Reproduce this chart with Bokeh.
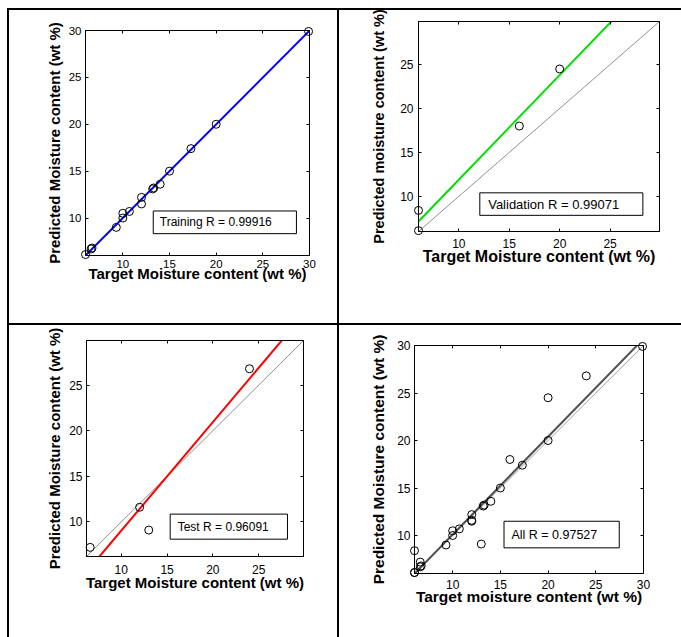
from bokeh.plotting import figure
from bokeh.models import Range1d, FixedTicker, LinearAxis, Spacer
from bokeh.layouts import column, row
from bokeh.embed import file_html
from bokeh.resources import INLINE
from bokeh.core.properties import value

# ---------------- data ----------------
train_target = [6.0, 6.6, 6.7, 9.3, 10.0, 10.0, 10.7, 12.0, 12.0, 13.2, 13.3, 14.0, 15.0, 17.3, 20.0, 29.9]
train_output = [6.1, 6.7, 6.8, 9.0, 10.5, 10.0, 10.7, 12.2, 11.5, 13.1, 13.2, 13.6, 15.0, 17.4, 20.0, 29.9]

val_target = [6.0, 6.0, 16.0, 20.0]
val_output = [8.4, 6.1, 18.0, 24.5]

test_target = [6.6, 12.0, 13.0, 24.0]
test_output = [7.2, 11.6, 9.1, 26.8]

all_target = train_target + val_target + test_target
all_output = train_output + val_output + test_output

# fitted regression lines: (slope, intercept)
train_fit = (0.999, 0.01)
val_fit = (1.19, 0.0)
test_fit = (1.19, -2.86)
all_fit = (1.03, -0.2)

r_labels = ["Training R = 0.99916", "Validation R = 0.99071", "Test R = 0.96091", "All R = 0.97527"]
x_labels = ["Target Moisture content (wt %)", "Target Moisture content (wt %)",
            "Target Moisture content (wt %)", "Target moisture content (wt %)"]
y_labels = ["Predicted Moisture content (wt %)", "Predicted moisture content (wt %)",
            "Predicted Moisture content (wt %)", "Predicted Moisture content (wt %)"]
ticks_full = [10, 15, 20, 25, 30]
ticks_short = [10, 15, 20, 25]

FONT = "Liberation Sans"


def style_axis(ax, ticks, fs, show_labels=True):
    ax.ticker = FixedTicker(ticks=ticks)
    ax.major_tick_in = 3
    ax.major_tick_out = 0
    ax.minor_tick_line_color = None
    ax.axis_line_color = "black"
    ax.major_tick_line_color = "black"
    ax.major_label_text_font = FONT
    ax.axis_label_text_font = FONT
    ax.axis_label_text_font_style = "bold"
    ax.axis_label_text_color = "black"
    if show_labels:
        ax.major_label_text_color = "black"
        ax.major_label_text_font_size = fs
    else:
        ax.major_label_text_color = None
        ax.major_label_text_font_size = "1px"
        ax.major_label_standoff = 0


def panel(w, h, mb, xr, yr, ticks, xlabel, ylabel, tick_fs, xl_fs, yl_fs,
          xstand, ystand):
    p = figure(width=w, height=h, x_range=Range1d(*xr), y_range=Range1d(*yr),
               output_backend="svg", toolbar_location=None, title=None,
               min_border_left=mb[0], min_border_right=mb[1],
               min_border_top=mb[2], min_border_bottom=mb[3])
    p.xgrid.visible = False
    p.ygrid.visible = False
    p.outline_line_color = "black"
    p.outline_line_width = 1
    p.background_fill_color = "white"
    p.border_fill_color = "white"
    style_axis(p.xaxis[0], ticks, tick_fs)
    style_axis(p.yaxis[0], ticks, tick_fs)
    p.xaxis.axis_label = xlabel
    p.yaxis.axis_label = ylabel
    p.xaxis.axis_label_text_font_size = xl_fs
    p.yaxis.axis_label_text_font_size = yl_fs
    p.xaxis.major_label_standoff = xstand[0]
    p.xaxis.axis_label_standoff = xstand[1]
    p.yaxis.major_label_standoff = ystand[0]
    p.yaxis.axis_label_standoff = ystand[1]
    top = LinearAxis()
    right = LinearAxis()
    style_axis(top, ticks, tick_fs, show_labels=False)
    style_axis(right, ticks, tick_fs, show_labels=False)
    p.add_layout(top, "above")
    p.add_layout(right, "right")
    return p


def fit_line(p, xr, fit, color, width):
    xs = [xr[0], xr[1]]
    ys = [fit[0] * x + fit[1] for x in xs]
    p.line(xs, ys, line_color=color, line_width=width)


def ident_line(p, xr, color, width):
    p.line([xr[0], xr[1]], [xr[0], xr[1]], line_color=color, line_width=width)


def rbox(p, l, r, b, t, tx, txt, fs):
    p.quad(left=[l], right=[r], bottom=[b], top=[t], fill_color="white",
           line_color="black", line_width=1)
    p.text(x=[tx], y=[(b + t) / 2], text=[txt], text_font=value(FONT),
           text_font_size=fs, text_baseline="middle", text_align="left",
           text_color="black")


def dots(p, xs, ys):
    p.scatter(xs, ys, marker="circle", size=8, fill_color=None,
              line_color="black", line_width=1, level="overlay")


def sep(w, h):
    return Spacer(width=w, height=h, styles={"background-color": "black"})


# ---------------- Training (top-left) ----------------
r1 = (6, 30)
p1 = panel(328, 313, (76, 28, 20, 68), r1, r1, ticks_full, x_labels[0], y_labels[0],
           "11.5px", "15px", "15px", (4, -6), (4, 3))
ident_line(p1, r1, "#909090", 1)
fit_line(p1, r1, train_fit, "#0000ff", 2)
dots(p1, train_target, train_output)
rbox(p1, 13.26, 28.6, 8.33, 10.75, 13.96, r_labels[0], "12px")

# ---------------- Validation (top-right) ----------------
r2 = (6, 29.9)
p2 = panel(342, 313, (79, 22, 11, 92), r2, r2, ticks_short, x_labels[1], y_labels[1],
           "12px", "16px", "14.5px", (7, -3), (5, 10))
ident_line(p2, r2, "#909090", 1)
fit_line(p2, r2, val_fit, "#00e000", 2)
dots(p2, val_target, val_output)
rbox(p2, 12.08, 28.25, 7.84, 10.4, 12.91, r_labels[1], "13px")

# ---------------- Test (bottom-left) ----------------
r3 = (6.2, 29.9)
p3 = panel(328, 312, (77, 34, 15, 81), r3, r3, ticks_short, x_labels[2], y_labels[2],
           "12px", "15px", "15px", (8, -3), (4, 3))
ident_line(p3, r3, "#909090", 1)
fit_line(p3, r3, test_fit, "#ff0000", 2)
dots(p3, test_target, test_output)
rbox(p3, 15.34, 28.15, 8.1, 10.85, 16.16, r_labels[2], "12px")

# ---------------- All (bottom-right) ----------------
r4 = (6, 30)
p4 = panel(342, 312, (75, 38, 20, 64), r4, r4, ticks_full, x_labels[3], y_labels[3],
           "12px", "15.5px", "15.5px", (6, -4), (4, 7))
ident_line(p4, r4, "#a0a0a0", 1)
fit_line(p4, r4, all_fit, "#505050", 2)
dots(p4, all_target, all_output)
rbox(p4, 15.38, 27.46, 8.7, 11.5, 16.16, r_labels[3], "12.5px")

table = column(
    sep(674, 2),
    row(sep(2, 313), column(p1), sep(2, 313), column(p2), spacing=0),
    sep(674, 2),
    row(sep(2, 312), column(p3), sep(2, 312), column(p4), spacing=0),
    spacing=0,
)
layout = column(
    Spacer(width=681, height=8),
    row(Spacer(width=7, height=629), table, spacing=0),
    spacing=0,
)

open("out.html", "w").write(file_html(layout, INLINE))
